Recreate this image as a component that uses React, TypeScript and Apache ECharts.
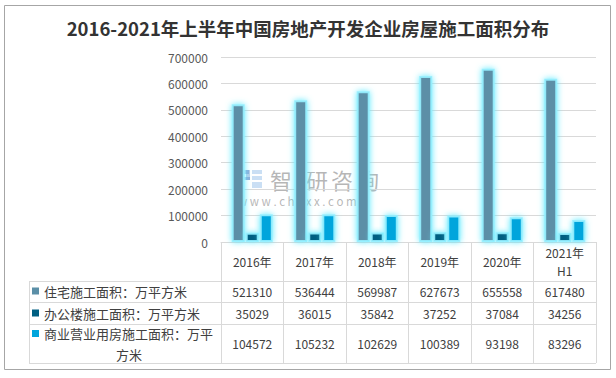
import React, { useEffect, useRef } from "react";
import * as echarts from "echarts";

const categories = ["2016年", "2017年", "2018年", "2019年", "2020年", "2021年\nH1"];
const seriesNames = ["住宅施工面积：万平方米", "办公楼施工面积：万平方米", "商业营业用房施工面积：万平方米"];
const residential = [521310, 536444, 569987, 627673, 655558, 617480];
const office = [35029, 36015, 35842, 37252, 37084, 34256];
const commercial = [104572, 105232, 102629, 100389, 93198, 83296];
const yTicks = { min: 0, max: 700000, interval: 100000 };
const colors = ["#5b8fa7", "#005f82", "#00a5dc"];
const title = "2016-2021年上半年中国房地产开发企业房屋施工面积分布";
const watermarkChars = ["智", "研", "咨", "询"];
const watermarkUrl = "w w w . c h y x x . c o m";

const FONT = "'Noto Sans CJK SC', 'Noto Sans', sans-serif";

export default function App() {
  const ref = useRef<HTMLDivElement>(null);
  useEffect(() => {
    if (!ref.current) return;
    const chart = echarts.init(ref.current, null, { renderer: "svg" });
    const allSeries = [residential, office, commercial];
    const rowOffsets = [49.5, 71, 101.5];
    const valueAxes = allSeries.map((vals, i) => ({
      type: "category",
      gridIndex: 0,
      position: "bottom",
      offset: rowOffsets[i],
      data: vals.map((v) => String(v)),
      axisLine: { show: false },
      axisTick: { show: false },
      splitLine: { show: false },
      axisLabel: {
        interval: 0,
        margin: 0,
        verticalAlign: "middle",
        color: "#404040",
        fontSize: 12,
        fontFamily: FONT,
      },
    }));
    const lineStyle = { stroke: "#d9d9d9", lineWidth: 1 };
    const rowLines = [281.5, 302.5, 324.5, 363.5].map((y) => ({
      type: "line",
      shape: { x1: 29, y1: y, x2: 596, y2: y },
      style: lineStyle,
      silent: true,
    }));
    const labelTexts = [
      { y: 291.5, text: seriesNames[0], sq: 287.5 },
      { y: 313, text: seriesNames[1], sq: 309.5 },
    ];
    const rowLabelEls: any[] = [];
    labelTexts.forEach((l, i) => {
      rowLabelEls.push({
        type: "rect",
        shape: { x: 32, y: l.sq, width: 7, height: 7 },
        style: { fill: colors[i] },
      });
      rowLabelEls.push({
        type: "text",
        x: 44,
        y: l.y,
        style: {
          text: l.text,
          font: `13px ${FONT}`,
          fill: "#404040",
          verticalAlign: "middle",
          align: "left",
        },
      });
    });
    const third = seriesNames[2];
    rowLabelEls.push({
      type: "rect",
      shape: { x: 32, y: 330, width: 7, height: 7 },
      style: { fill: colors[2] },
    });
    rowLabelEls.push({
      type: "text",
      x: 44,
      y: 333,
      style: {
        text: third.slice(0, third.length - 2),
        font: `13px ${FONT}`,
        fill: "#404040",
        verticalAlign: "middle",
        align: "left",
      },
    });
    rowLabelEls.push({
      type: "text",
      x: 129,
      y: 354.5,
      style: {
        text: third.slice(third.length - 2),
        font: `13px ${FONT}`,
        fill: "#404040",
        verticalAlign: "middle",
        align: "center",
      },
    });

    const wmFill = "rgba(110,110,110,0.5)";
    const logoFill = "rgba(60,110,190,0.35)";
    const logoFill2 = "rgba(80,150,220,0.3)";
    const wmCharX = [270, 306, 331, 357];
    const watermark = {
      type: "group",
      silent: true,
      children: [
        { type: "rect", shape: { x: 238, y: 170, width: 4, height: 18 }, style: { fill: logoFill } },
        { type: "rect", shape: { x: 238, y: 170, width: 11, height: 4 }, style: { fill: logoFill } },
        { type: "rect", shape: { x: 246, y: 170, width: 4, height: 10 }, style: { fill: logoFill } },
        { type: "rect", shape: { x: 242, y: 177, width: 8, height: 3 }, style: { fill: logoFill } },
        { type: "rect", shape: { x: 252, y: 170, width: 10, height: 4 }, style: { fill: logoFill2 } },
        { type: "rect", shape: { x: 252, y: 176, width: 10, height: 4 }, style: { fill: logoFill2 } },
        { type: "rect", shape: { x: 252, y: 182, width: 10, height: 6 }, style: { fill: logoFill2 } },
        ...watermarkChars.map((c, i) => ({
          type: "text",
          x: wmCharX[i],
          y: 179,
          style: { text: c, font: `22px ${FONT}`, fill: wmFill, verticalAlign: "middle", align: "left" },
        })),
        {
          type: "text",
          x: 238,
          y: 201,
          style: {
            text: watermarkUrl,
            font: `11.5px ${FONT}`,
            fill: wmFill,
            verticalAlign: "middle",
            align: "left",
          },
        },
      ],
    };

    chart.setOption({
      animation: false,
      backgroundColor: "#ffffff",
      title: {
        text: title,
        left: "center",
        top: 14,
        textStyle: { fontSize: 18.5, fontWeight: "bold", color: "#333333", fontFamily: FONT },
      },
      grid: { left: 221, right: 20, top: 57, bottom: 136, containLabel: false },
      xAxis: [
        {
          type: "category",
          data: categories,
          axisLine: { show: true, lineStyle: { color: "#d9d9d9" } },
          axisTick: { show: true, interval: 0, length: 121, lineStyle: { color: "#d9d9d9" } },
          axisLabel: {
            interval: 0,
            margin: 19,
            verticalAlign: "middle",
            lineHeight: 18,
            color: "#404040",
            fontSize: 12,
            fontFamily: FONT,
          },
        },
        ...valueAxes,
      ],
      yAxis: {
        type: "value",
        min: yTicks.min,
        max: yTicks.max,
        interval: yTicks.interval,
        axisLine: { show: false },
        axisTick: { show: false },
        splitLine: { lineStyle: { color: "#d9d9d9" } },
        axisLabel: {
          color: "#595959",
          fontSize: 12,
          margin: 13,
          fontFamily: FONT,
          formatter: (v: number) => String(v),
        },
      },
      series: allSeries.map((vals, i) => ({
        type: "bar",
        name: seriesNames[i],
        data: vals,
        xAxisIndex: 0,
        barWidth: 13,
        barGap: "8%",
        z: 3,
        itemStyle: {
          color: colors[i],
          borderColor: "rgba(150,240,255,0.9)",
          borderWidth: 2,
          shadowBlur: 6,
          shadowColor: "rgba(90,235,255,1)",
        },
      })),
      graphic: [
        {
          type: "rect",
          shape: { x: 4.5, y: 5.5, width: 606, height: 364 },
          style: { fill: "none", stroke: "#a6a6a6", lineWidth: 1 },
          silent: true,
          z: -1,
        },
        ...rowLines,
        {
          type: "line",
          shape: { x1: 29.5, y1: 281.5, x2: 29.5, y2: 363.5 },
          style: lineStyle,
          silent: true,
        },
        ...rowLabelEls,
        watermark,
      ],
    });
    return () => chart.dispose();
  }, []);
  return (
    <div
      ref={ref}
      style={{ position: "fixed", left: 0, top: 0, width: 616, height: 378, background: "#fff" }}
    />
  );
}
